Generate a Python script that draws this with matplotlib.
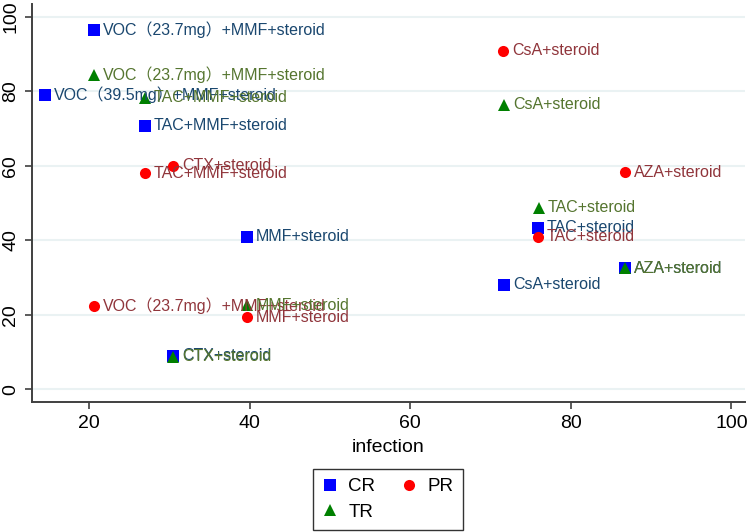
import matplotlib.pyplot as plt

# dados (x = infection, y = eixo vertical sem titulo)
cr_labels = ["VOC（23.7mg）+MMF+steroid", "VOC（39.5mg）+MMF+steroid", "TAC+MMF+steroid",
             "MMF+steroid", "CTX+steroid", "TAC+steroid", "CsA+steroid", "AZA+steroid"]
cr_x = [20.6, 14.5, 26.9, 39.6, 30.4, 75.9, 71.7, 86.7]
cr_y = [96.5, 79.0, 70.7, 40.9, 9.0, 43.3, 28.0, 32.5]

pr_labels = ["CsA+steroid", "AZA+steroid", "CTX+steroid", "TAC+MMF+steroid",
             "TAC+steroid", "VOC（23.7mg）+MMF+steroid", "MMF+steroid"]
pr_x = [71.6, 86.7, 30.4, 26.9, 75.9, 20.6, 39.6]
pr_y = [90.8, 58.3, 60.0, 58.0, 41.0, 22.4, 19.4]

tr_labels = ["VOC（23.7mg）+MMF+steroid", "TAC+MMF+steroid", "CsA+steroid", "TAC+steroid",
             "AZA+steroid", "MMF+steroid", "CTX+steroid"]
tr_x = [20.6, 26.9, 71.7, 76.0, 86.7, 39.6, 30.4]
tr_y = [84.4, 78.2, 76.3, 48.7, 32.5, 22.6, 8.8]

fontes = ["Liberation Sans", "Noto Sans CJK SC", "DejaVu Sans"]
plt.rcParams["font.family"] = fontes

fig = plt.figure(figsize=(7.49, 5.32), dpi=100)
ax = fig.add_axes([32 / 749, 1 - 402 / 532, 713 / 749, 398 / 532])

series = [
    ("CR", cr_labels, cr_x, cr_y, "s", "#0000ff", "#1a476f", 8),
    ("PR", pr_labels, pr_x, pr_y, "o", "#ff0000", "#90353b", 8),
    ("TR", tr_labels, tr_x, tr_y, "^", "#008000", "#55752f", 8.5),
]

handles = {}
for nome, labels, xs, ys, marcador, cor, cor_txt, tam in series:
    h, = ax.plot(xs, ys, linestyle="none", marker=marcador, color=cor,
                 markersize=tam, markeredgewidth=0, label=nome, zorder=3)
    handles[nome] = h
    for lab, x, y in zip(labels, xs, ys):
        ax.annotate(lab, (x, y), xytext=(6.5, 0), textcoords="offset points",
                    ha="left", va="center", fontsize=11.5, color=cor_txt,
                    family=fontes, zorder=4)

ax.set_xlim(12.86, 101.7)
ax.set_ylim(-3.4, 103.4)
ax.set_xticks([20, 40, 60, 80, 100])
ax.set_yticks([0, 20, 40, 60, 80, 100])
ax.grid(axis="y", color="#eaf2f3", linewidth=1.5, zorder=0)
ax.set_axisbelow(True)

for lado in ["top", "right"]:
    ax.spines[lado].set_visible(False)
for lado in ["left", "bottom"]:
    ax.spines[lado].set_color("#404040")
    ax.spines[lado].set_linewidth(1.4)

ax.tick_params(axis="both", direction="out", length=5, width=1.2, color="#404040",
               labelsize=14, pad=4)
for t in ax.get_yticklabels():
    t.set_rotation(90)
    t.set_va("center")

ax.set_xlabel("infection", fontsize=14, labelpad=5.5)

# legenda fora do grafico, como no Stata
leg = fig.legend([handles["CR"], handles["TR"], handles["PR"]], ["CR", "TR", "PR"],
                 ncol=2, loc="lower center", bbox_to_anchor=(388 / 749, 2 / 532),
                 borderaxespad=0, fontsize=13.5, frameon=True, fancybox=False,
                 edgecolor="black", handlelength=0.8, handletextpad=0.6,
                 columnspacing=1.4, borderpad=0.5, labelspacing=0.45)
leg.get_frame().set_linewidth(1.0)

fig.savefig("out.png", dpi=100)
